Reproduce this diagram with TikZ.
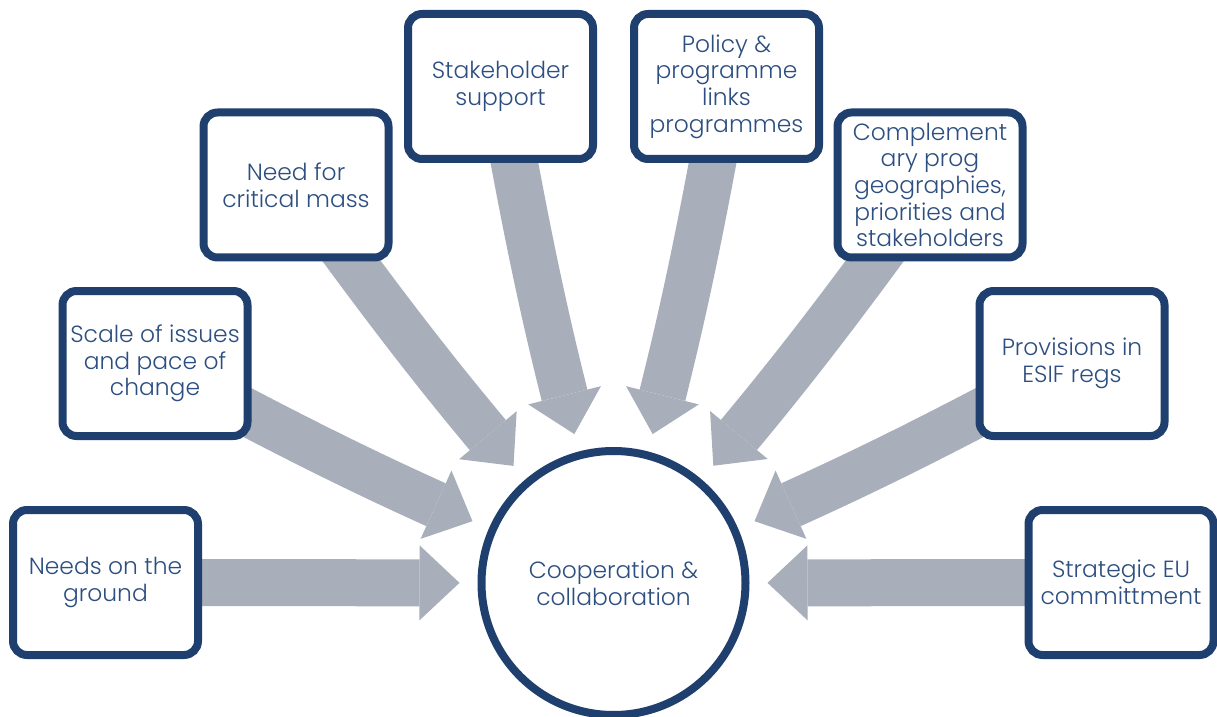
\documentclass[tikz,border=0pt]{standalone}
\usepackage{fontspec}
\setmainfont{Poppins}[UprightFont=* Light]
\usetikzlibrary{arrows.meta, shadows, backgrounds}
\definecolor{frameblue}{RGB}{31,63,110}
\definecolor{labelblue}{RGB}{44,78,128}
\definecolor{flowgray}{RGB}{169,174,187}

\begin{document}
\begin{tikzpicture}[x=0.5pt, y=-0.5pt,
  factor/.style={rectangle, rounded corners=7pt, draw=frameblue, line width=4pt, fill=white,
    minimum width=92.5pt, minimum height=72.5pt, inner sep=0pt, align=center,
    text=labelblue, font=\fontsize{11.7}{13.3}\selectfont,
    drop shadow={shadow xshift=1.2pt, shadow yshift=-1.2pt, opacity=0.25}},
  hub/.style={circle, draw=frameblue, line width=4pt, fill=white, minimum size=132pt,
    inner sep=0pt, align=center, text=labelblue, font=\fontsize{11.7}{13.3}\selectfont,
    drop shadow={shadow xshift=1.2pt, shadow yshift=-1.2pt, opacity=0.25}},
  flow/.style={draw=flowgray, line width=23.5pt, shorten >=9pt,
    -{Triangle[length=20pt, width=37.5pt, line width=0pt]}}]
  \useasboundingbox (0,0) rectangle (1217,717);

  % factors round the hub
  \node[factor] (needs) at (105.5,582.5) {Needs on the\\ground};
  \node[factor] (scale) at (155,363.5) {Scale of issues\\and pace of\\change};
  \node[factor] (mass) at (296,185) {Need for\\critical mass};
  \node[factor] (support) at (500.5,86.5) {Stakeholder\\support};
  \node[factor] (links) at (726.5,86.5) {Policy \&\\programme\\links\\programmes};
  \node[factor] (geo) at (930,185) {Complement\\ary prog\\geographies,\\priorities and\\stakeholders};
  \node[factor] (regs) at (1072,363.5) {Provisions in\\ESIF regs};
  \node[factor] (eu) at (1121,582.5) {Strategic EU\\committment};
  \node[hub] (coop) at (613.5,583) {Cooperation \&\\collaboration};

  % block arrows into the hub
  \begin{scope}[on background layer]
    \draw[flow] (needs.center) -- (coop);
    \draw[flow] (scale.center) to[bend right=2] (coop);
    \draw[flow] (mass.center) to[bend right=2] (coop);
    \draw[flow] (support.center) to[bend right=2] (coop);
    \draw[flow] (links.center) to[bend left=2] (coop);
    \draw[flow] (geo.center) to[bend left=2] (coop);
    \draw[flow] (regs.center) to[bend left=2] (coop);
    \draw[flow] (eu.center) -- (coop);
  \end{scope}
\end{tikzpicture}
\end{document}
